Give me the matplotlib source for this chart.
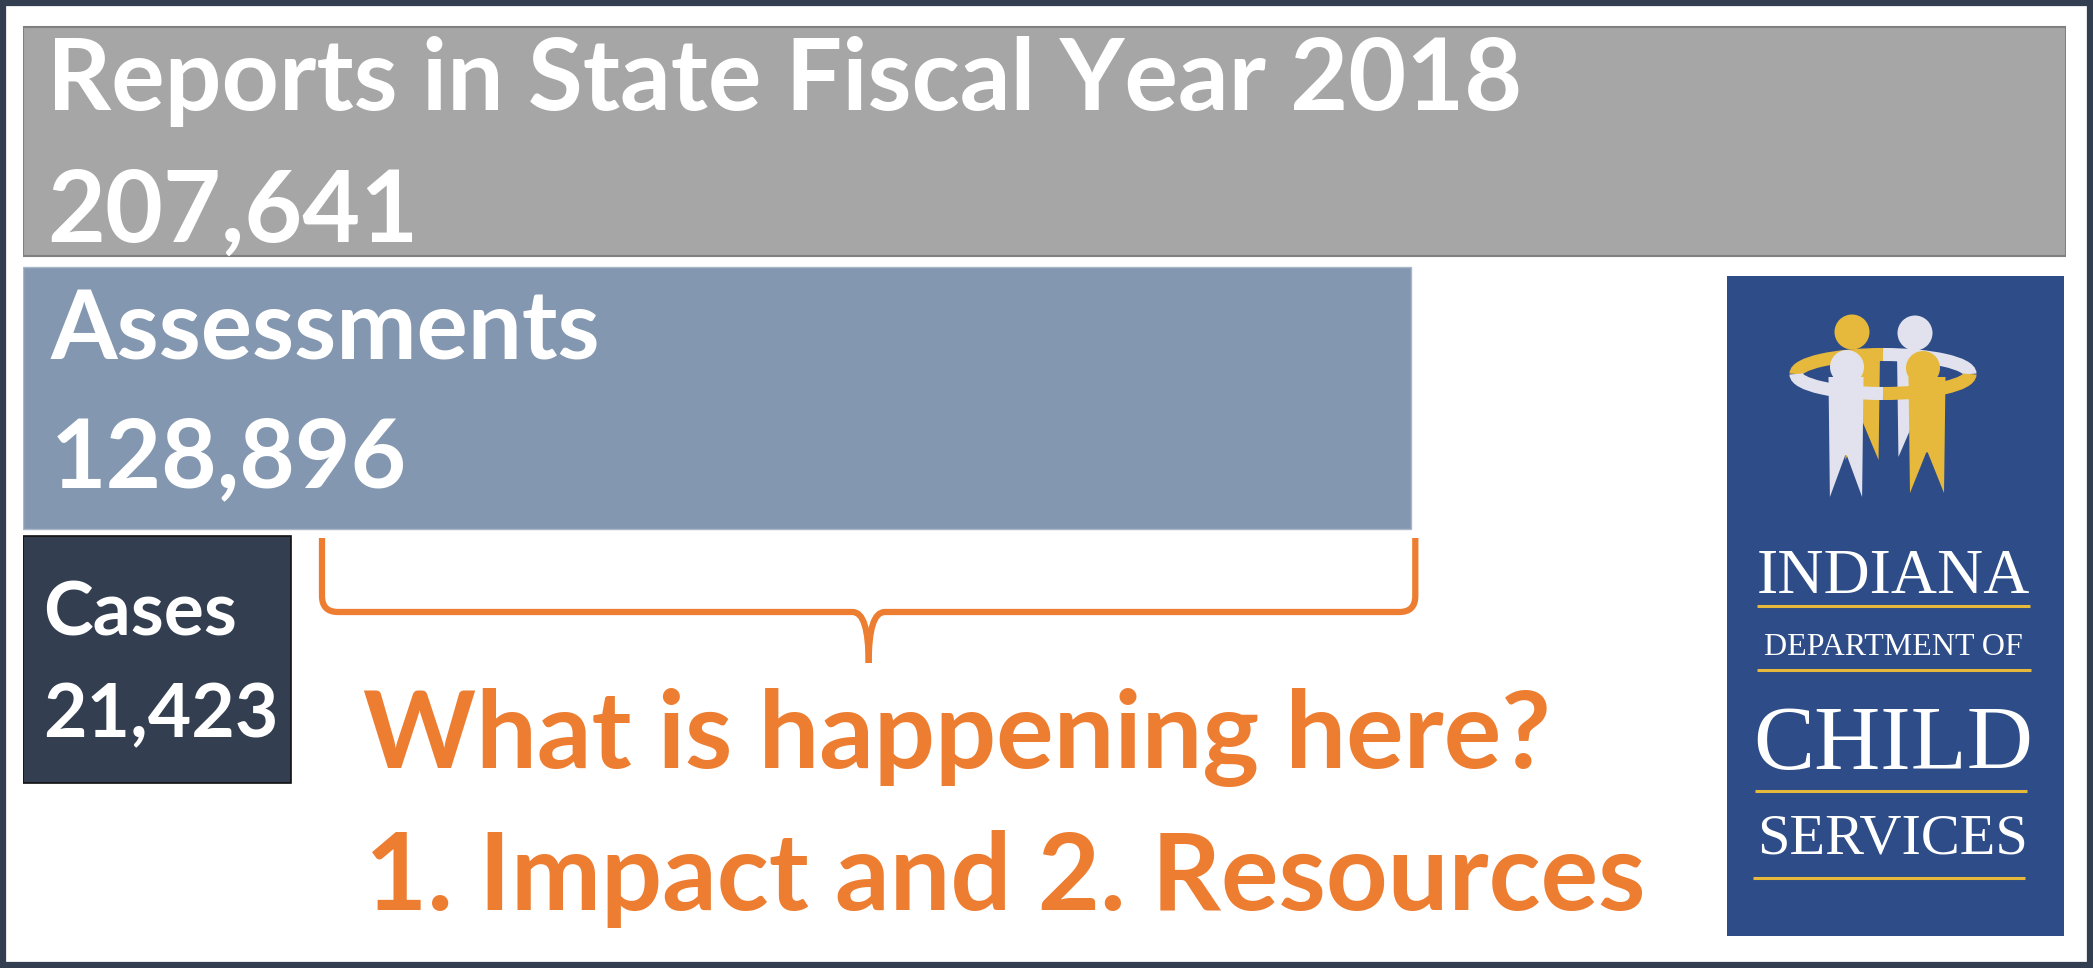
import numpy as np
import matplotlib.pyplot as plt
from matplotlib.patches import Rectangle, Polygon, Ellipse, Arc, PathPatch
from matplotlib.path import Path

# Counts for state fiscal year 2018
labels = ['Reports in State Fiscal Year 2018', 'Assessments', 'Cases']
values = [207641, 128896, 21423]

# Box layout in pixels (top, bottom) and colours
bar_top = [27, 267, 536]
bar_bottom = [256, 529, 783]
bar_colors = ['#A6A6A6', '#8497B0', '#333F50']
bar_edges = ['#808080', '#A9B7CB', '#111111']
label_sizes = [72, 69, 54]
label_x = [47, 51, 43]
label_base = [110, 360, 635]
value_base = [242, 487, 737]

question = 'What is happening here?'
answer = '1. Impact and 2. Resources'
orange = '#ED7D31'

W, H = 2093, 968
fig = plt.figure(figsize=(W / 100, H / 100), dpi=100)
fig.patch.set_facecolor('white')

# Horizontal boxes, lengths on a log1p scale so the small count stays readable
k = 300000
ax = fig.add_axes([23 / W, 0, (2066 - 23) / W, 1])
ax.set_xscale('function', functions=(lambda x: np.log1p(np.asarray(x) / k),
                                     lambda y: k * np.expm1(np.asarray(y))))
ax.set_xlim(0, max(values))
ax.set_ylim(H, 0)
centers = [(t + b) / 2 for t, b in zip(bar_top, bar_bottom)]
heights = [b - t for t, b in zip(bar_top, bar_bottom)]
bars = ax.barh(centers, values, height=heights, left=0, color=bar_colors,
               edgecolor=bar_edges, linewidth=[1.5, 1.0, 1.2])
ax.axis('off')

# Overlay in pixel coordinates for text, bracket and logo
ov = fig.add_axes([0, 0, 1, 1])
ov.set_xlim(0, W)
ov.set_ylim(H, 0)
ov.axis('off')
ov.patch.set_visible(False)

font = 'Lato'
for i, (lab, val) in enumerate(zip(labels, values)):
    ov.text(label_x[i], label_base[i], lab, color='white', fontsize=label_sizes[i],
            fontweight='bold', family=font, va='baseline', ha='left')
    ov.text(label_x[i], value_base[i], f'{val:,}', color='white', fontsize=label_sizes[i],
            fontweight='bold', family=font, va='baseline', ha='left')

# Curly bracket under the assessments box
fig.canvas.draw()
right = ax.transData.transform((values[1], 0))[0] + 4
left = 322
top, hy, tip = 538, 612, 663
mid = (left + right) / 2
r = 16
for x0, s in [(left, 1), (right, -1)]:
    verts = [(x0, top), (x0, hy - r), (x0, hy), (x0 + s * r, hy),
             (mid - s * r, hy), (mid, hy), (mid, tip)]
    codes = [Path.MOVETO, Path.LINETO, Path.CURVE3, Path.CURVE3,
             Path.LINETO, Path.CURVE3, Path.CURVE3]
    ov.add_patch(PathPatch(Path(verts, codes), fill=False, edgecolor=orange,
                           lw=4.5, capstyle='butt', joinstyle='round'))

ov.text(363, 768, question, color=orange, fontsize=77.5, fontweight='bold',
        family=font, va='baseline', ha='left')
ov.text(365, 910, answer, color=orange, fontsize=77.5, fontweight='bold',
        family=font, va='baseline', ha='left')

# Agency logo
blue, gold, light = '#2E4C88', '#E6B83C', '#E2E2EE'
ov.add_patch(Rectangle((1727, 276), 2064 - 1727, 936 - 276, facecolor=blue,
                       edgecolor='none', zorder=3))


def body(cx, top, w, bottom, color, z):
    h = bottom - top
    pts = [(cx - w / 2, top), (cx + w / 2, top), (cx + 0.46 * w, bottom),
           (cx + 0.02 * w, top + 0.65 * h), (cx - 0.02 * w, top + 0.65 * h),
           (cx - 0.46 * w, bottom)]
    ov.add_patch(Polygon(pts, closed=True, facecolor=color, edgecolor='none', zorder=z))


# back pair
body(1862, 352, 36, 460, gold, 4)
body(1915, 352, 36, 457, light, 4)
ov.add_patch(Ellipse((1852, 332), 35, 35, facecolor=gold, edgecolor='none', zorder=4))
ov.add_patch(Ellipse((1915, 333), 35, 35, facecolor=light, edgecolor='none', zorder=4))
# linked arms
ring = dict(xy=(1883, 374), width=174, height=39, lw=9.4, zorder=5)
ov.add_patch(Arc(theta1=180, theta2=270, edgecolor=gold, **ring))
ov.add_patch(Arc(theta1=270, theta2=360, edgecolor=light, **ring))
ov.add_patch(Arc(theta1=90, theta2=180, edgecolor=light, **ring))
ov.add_patch(Arc(theta1=0, theta2=90, edgecolor=gold, **ring))
# front pair
body(1846, 377, 35, 497, light, 6)
body(1927, 377, 37, 493, gold, 6)
ov.add_patch(Ellipse((1847, 367), 34, 34, facecolor=light, edgecolor='none', zorder=7))
ov.add_patch(Ellipse((1923, 368), 34, 34, facecolor=gold, edgecolor='none', zorder=7))

serif = 'Liberation Serif'
logo_text = [('INDIANA', 593, 46), ('DEPARTMENT OF', 655, 23),
             ('CHILD', 769, 66), ('SERVICES', 854, 42)]
for txt, base, size in logo_text:
    ov.text(1893, base, txt, color='white', fontsize=size, family=serif,
            va='baseline', ha='center', zorder=8)
for y, x0, x1 in [(606, 1757, 2030), (670, 1757, 2031), (791, 1755, 2027), (878, 1753, 2025)]:
    ov.plot([x0, x1], [y, y], color=gold, lw=2.2, solid_capstyle='butt', zorder=8)

# Slide frame
ov.add_patch(Rectangle((3, 3), W - 6, H - 6, fill=False, edgecolor='#333F50', lw=4.5, zorder=10))

fig.savefig('out.png', dpi=100)
